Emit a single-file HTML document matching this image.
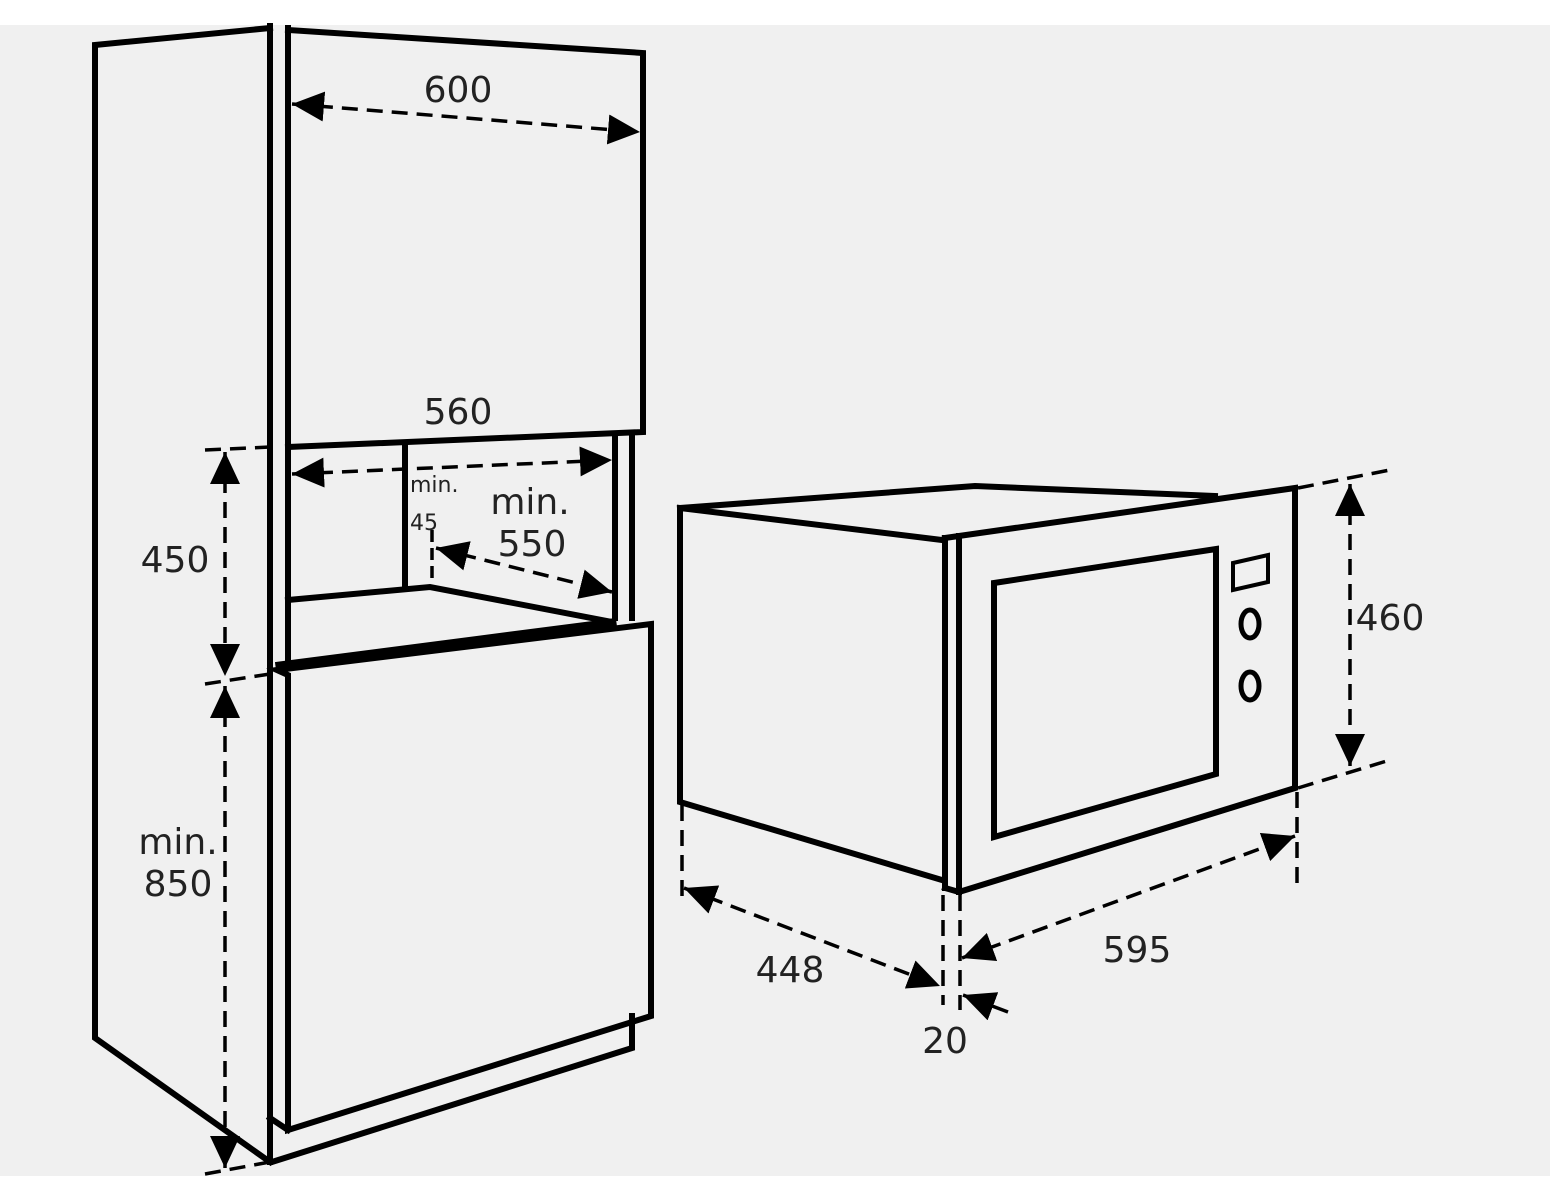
<!DOCTYPE html>
<html><head><meta charset="utf-8"><style>
html,body{margin:0;padding:0;background:#fff;}
svg{display:block;}
text{font-family:"DejaVu Sans","Liberation Sans",sans-serif;fill:#222;}
</style></head><body>
<svg width="1550" height="1186" viewBox="0 0 1550 1186" xmlns="http://www.w3.org/2000/svg">
<defs>
<marker id="a" markerUnits="userSpaceOnUse" markerWidth="34" markerHeight="30" refX="32" refY="15" orient="auto-start-reverse">
<path d="M0,0 L32,15 L0,30 Z" fill="#000"/>
</marker>
</defs>
<rect x="0" y="25" width="1550" height="1151" fill="#f0f0f0"/>
<g fill="none" stroke="#000" stroke-width="6" stroke-linejoin="miter" stroke-linecap="square">
<!-- left side panel -->
<polyline points="270,28 95,45 95,1038 270,1162"/>
<line x1="270" y1="26" x2="270" y2="1162"/>
<line x1="288" y1="28" x2="288" y2="447"/>
<!-- upper door -->
<polyline points="288,30 643,53 643,432 288,447"/>
<!-- niche -->
<line x1="288" y1="452" x2="288" y2="665"/>
<line x1="405" y1="447" x2="405" y2="586"/>
<line x1="615" y1="436" x2="615" y2="618"/>
<line x1="632" y1="435" x2="632" y2="618"/>
<polyline points="288,600 430,587 612,622"/>
<!-- lower cabinet -->
<polygon points="277,670 651,624 651,1016 288,1130 288,675" />
<line x1="280" y1="666" x2="612" y2="623" stroke-width="9"/>
<polyline points="632,1016 632,1048 272,1162"/>
<polyline points="288,1130 270,1118"/>
<!-- microwave side -->
<polyline points="942,540 680,508 680,802 942,880"/>
<polyline points="680,508 975,486 1215,496"/>
<!-- frame -->
<line x1="945" y1="538" x2="945" y2="888"/>
<line x1="959" y1="536" x2="959" y2="892"/>
<polyline points="945,538 1295,488 1295,788 959,892 945,888"/>
<polygon points="994,583 1216,549 1216,774 994,837"/>
<polygon points="1233,563 1268,555 1268,582 1233,590" stroke-width="4"/>
<ellipse cx="1250" cy="624" rx="9" ry="14" stroke-width="5"/>
<ellipse cx="1250" cy="686" rx="9" ry="14" stroke-width="5"/>
</g>
<g fill="none" stroke="#000" stroke-width="3.5" stroke-dasharray="16 9">
<line x1="292" y1="104" x2="640" y2="132" marker-start="url(#a)" marker-end="url(#a)"/>
<line x1="292" y1="474" x2="612" y2="460" marker-start="url(#a)" marker-end="url(#a)"/>
<line x1="436" y1="548" x2="612" y2="592" marker-start="url(#a)" marker-end="url(#a)"/>
<line x1="432" y1="530" x2="432" y2="582" stroke-dasharray="12 6"/>
<line x1="225" y1="452" x2="225" y2="676" marker-start="url(#a)" marker-end="url(#a)"/>
<line x1="205" y1="450" x2="270" y2="447"/>
<line x1="205" y1="684" x2="270" y2="674"/>
<line x1="225" y1="686" x2="225" y2="1168" marker-start="url(#a)" marker-end="url(#a)"/>
<line x1="205" y1="1174" x2="270" y2="1162"/>
<!-- microwave dims -->
<line x1="1350" y1="484" x2="1350" y2="766" marker-start="url(#a)" marker-end="url(#a)"/>
<line x1="1298" y1="488" x2="1390" y2="470"/>
<line x1="1298" y1="788" x2="1390" y2="760"/>
<line x1="1297" y1="792" x2="1297" y2="885"/>
<line x1="682" y1="805" x2="682" y2="905"/>
<line x1="943" y1="895" x2="943" y2="1005"/>
<line x1="960" y1="895" x2="960" y2="1010"/>
<line x1="684" y1="888" x2="940" y2="986" marker-start="url(#a)" marker-end="url(#a)"/>
<line x1="962" y1="958" x2="1295" y2="836" marker-start="url(#a)" marker-end="url(#a)"/>
<line x1="1008" y1="1012" x2="963" y2="995" stroke-dasharray="none" marker-end="url(#a)"/>
</g>
<g font-size="36">
<text x="458" y="102" text-anchor="middle">600</text>
<text x="458" y="424" text-anchor="middle">560</text>
<text x="530" y="514" text-anchor="middle">min.</text>
<text x="532" y="556" text-anchor="middle">550</text>
<text x="175" y="572" text-anchor="middle">450</text>
<text x="178" y="854" text-anchor="middle">min.</text>
<text x="178" y="896" text-anchor="middle">850</text>
<text x="1390" y="630" text-anchor="middle">460</text>
<text x="1137" y="962" text-anchor="middle">595</text>
<text x="790" y="982" text-anchor="middle">448</text>
<text x="945" y="1053" text-anchor="middle">20</text>
</g>
<g font-size="22">
<text x="410" y="492">min.</text>
<text x="410" y="530">45</text>
</g>
</svg>
</body></html>
